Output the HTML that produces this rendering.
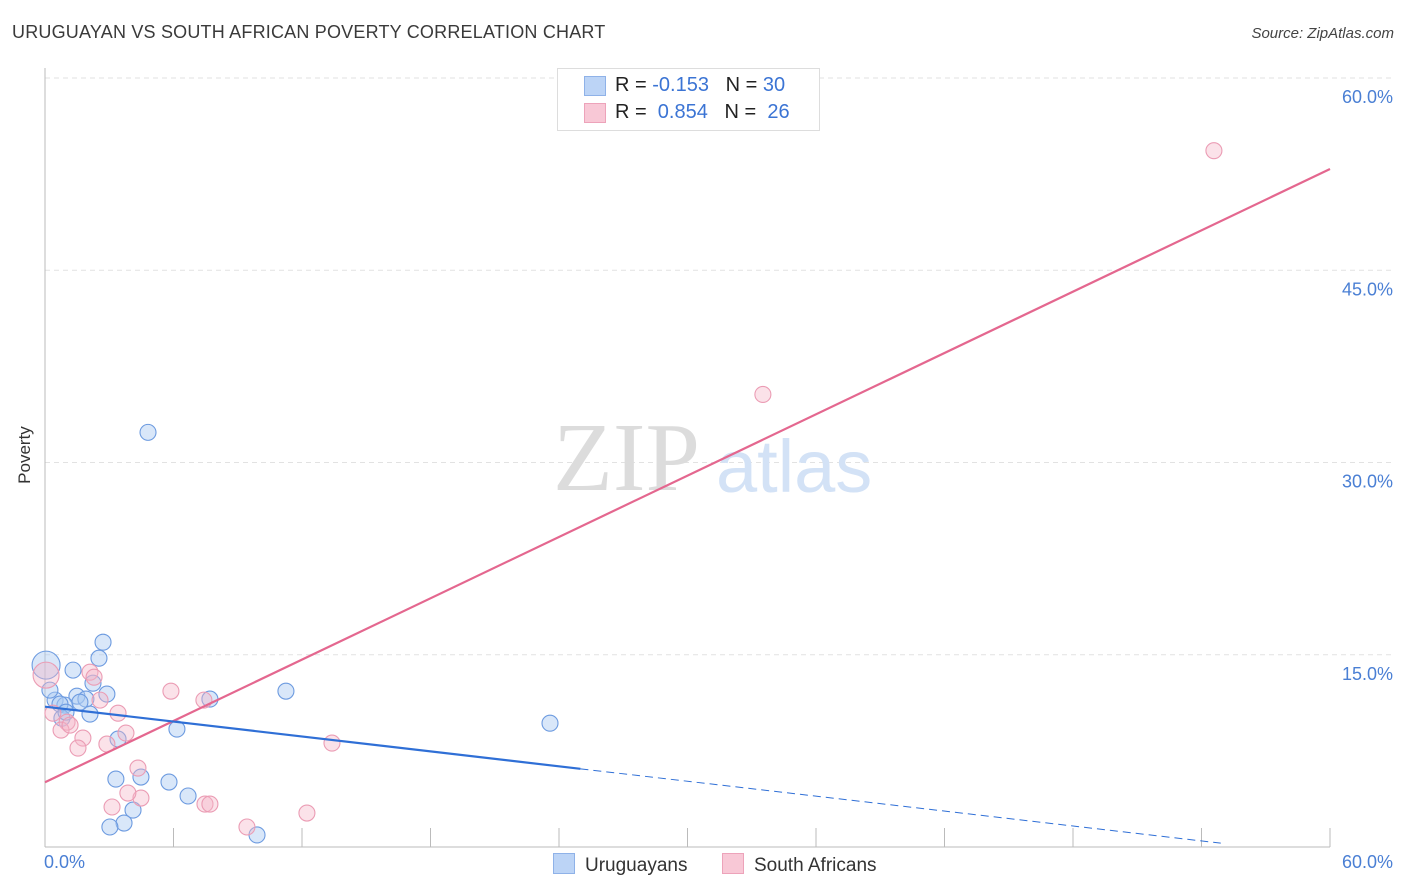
<!DOCTYPE html>
<html><head><meta charset="utf-8"><style>
body{margin:0;background:#fff;font-family:"Liberation Sans",sans-serif}
#wrap{position:relative;width:1406px;height:892px;overflow:hidden}
.t{position:absolute;white-space:nowrap}
</style></head><body>
<div id="wrap">
<div class="t" style="left:12px;top:22px;font-size:18px;color:#3a3a3a;letter-spacing:0.2px">URUGUAYAN VS SOUTH AFRICAN POVERTY CORRELATION CHART</div>
<div class="t" style="right:12px;top:25px;font-size:15px;color:#444;font-style:italic">Source: ZipAtlas.com</div>
<div class="t" style="left:-4px;top:445px;font-size:17px;color:#333;transform:rotate(-90deg)">Poverty</div>
<svg id="svg" width="1406" height="892" style="position:absolute;left:0;top:0"></svg>
<div class="t" style="left:557px;top:68px;width:261px;height:61px;border:1px solid #ddd;background:#fff"></div>
<div class="t" style="left:584px;top:76px;width:20px;height:18px;background:#bcd4f6;border:1px solid #8fb2e8"></div>
<div class="t" style="left:584px;top:103px;width:20px;height:18px;background:#f8c8d6;border:1px solid #eda3ba"></div>
<div class="t" style="left:615px;top:74px;font-size:20px;color:#222">R = <span style="color:#3b74d4">-0.153</span>&nbsp;&nbsp;&nbsp;N = <span style="color:#3b74d4">30</span></div>
<div class="t" style="left:615px;top:101px;font-size:20px;color:#222">R = &nbsp;<span style="color:#3b74d4">0.854</span>&nbsp;&nbsp;&nbsp;N = &nbsp;<span style="color:#3b74d4">26</span></div>
<div class="t" style="left:44px;top:852px;font-size:18px;color:#4a7fd4">0.0%</div>
<div class="t" style="right:13px;top:852px;font-size:18px;color:#4a7fd4">60.0%</div>
<div class="t" style="left:553px;top:853px;font-size:19px;color:#333"><span style="display:inline-block;width:20px;height:19px;background:#bcd4f6;border:1px solid #8fb2e8;vertical-align:-3px;margin-right:10px"></span>Uruguayans</div>
<div class="t" style="left:722px;top:853px;font-size:19px;color:#333"><span style="display:inline-block;width:20px;height:19px;background:#f8c8d6;border:1px solid #eda3ba;vertical-align:-3px;margin-right:10px"></span>South Africans</div>
</div>
<script>
const yTicks=[15,30,45,60];
const yTickLabels=["15.0%","30.0%","45.0%","60.0%"];
const xTicks=[0,6,12,18,24,30,36,42,48,54,60];
const uruX=[4.81,2.71,2.52,1.31,0.05,2.24,2.89,1.49,1.91,0.47,0.93,0.70,2.10,7.70,11.25,23.58,6.16,3.41,3.31,4.48,5.79,6.68,4.11,3.69,3.03,9.90,0.79,0.23,0.98,1.63];
const uruY=[32.35,15.98,14.73,13.80,14.19,12.78,11.93,11.77,11.54,11.46,11.07,11.15,10.37,11.54,12.16,9.66,9.20,8.42,5.30,5.46,5.07,3.98,2.88,1.87,1.56,0.94,10.05,12.24,10.52,11.30];
const saX=[54.58,33.52,0.05,2.10,2.29,5.88,7.42,2.57,3.41,0.37,1.03,0.75,1.77,3.78,1.54,2.89,4.34,4.48,3.87,3.13,7.47,7.70,13.40,9.43,12.23,1.17];
const saY=[54.33,35.31,13.41,13.64,13.25,12.16,11.46,11.46,10.44,10.44,9.74,9.12,8.50,8.89,7.72,8.03,6.16,3.82,4.21,3.12,3.35,3.35,8.11,1.56,2.65,9.51];
const uruLine=[0,10.95,25,6.1];
const uruDash=[25,6.1,54.9,0.3];
const saLine=[0,5.05,60,52.9];
const X0=45,X1=1330,Y0=847,Y60=78;
const sx=v=>X0+(X1-X0)*v/60;
const sy=v=>Y0-(Y0-Y60)*v/60;
const svg=document.getElementById('svg');
const NS='http://www.w3.org/2000/svg';
function mk(tag,attrs,name){const e=document.createElementNS(NS,tag);for(const k in attrs)e.setAttribute(k,attrs[k]);


svg.appendChild(e);return e;}
yTicks.forEach((v,i)=>{
mk('line',{x1:X0,x2:1395,y1:sy(v),y2:sy(v),stroke:'#e2e2e2','stroke-dasharray':'5,4'},'gridline');
const t=mk('text',{x:1393,y:sy(v)+25,'text-anchor':'end','font-size':18,fill:'#4a7fd4','font-family':'Liberation Sans'},'y-tick-label');t.textContent=yTickLabels[i];
});
mk('line',{x1:X0,x2:X0,y1:68,y2:Y0,stroke:'#bbb'},'y-axis-line');
mk('line',{x1:X0,x2:X1,y1:Y0,y2:Y0,stroke:'#bbb'},'x-axis-line');
xTicks.forEach(v=>{mk('line',{x1:sx(v),x2:sx(v),y1:828,y2:Y0,stroke:'#bbb'},'x-tick');});
const wm=mk('text',{x:553,y:490,'font-size':98,fill:'#dcdcdc','font-family':'Liberation Serif'},'watermark-zip');wm.textContent='ZIP';
const wm2=mk('text',{x:716,y:492,'font-size':74,fill:'#d3e2f6','font-family':'Liberation Sans'},'watermark-atlas');wm2.textContent='atlas';
function dot(x,y,r,fill,stroke,name){mk('circle',{cx:sx(x),cy:sy(y),r:r,fill:fill,stroke:stroke,'stroke-width':1.1},name);}
uruX.forEach((x,i)=>dot(x,uruY[i],i==4?14:8,'rgba(170,202,242,0.45)','#6d9be0','uruguayan-point'));
saX.forEach((x,i)=>dot(x,saY[i],i==2?13:8,'rgba(246,182,200,0.4)','#eb9cb4','south-african-point'));
mk('line',{x1:sx(saLine[0]),y1:sy(saLine[1]),x2:sx(saLine[2]),y2:sy(saLine[3]),stroke:'#e4678f','stroke-width':2.2},'south-african-trend-line');
mk('line',{x1:sx(uruLine[0]),y1:sy(uruLine[1]),x2:sx(uruLine[2]),y2:sy(uruLine[3]),stroke:'#2f6fd6','stroke-width':2.2},'uruguayan-trend-line');
mk('line',{x1:sx(uruDash[0]),y1:sy(uruDash[1]),x2:sx(uruDash[2]),y2:sy(uruDash[3]),stroke:'#2f6fd6','stroke-width':1,'stroke-dasharray':'8,5'},'uruguayan-trend-extension');
</script>
</body></html>
